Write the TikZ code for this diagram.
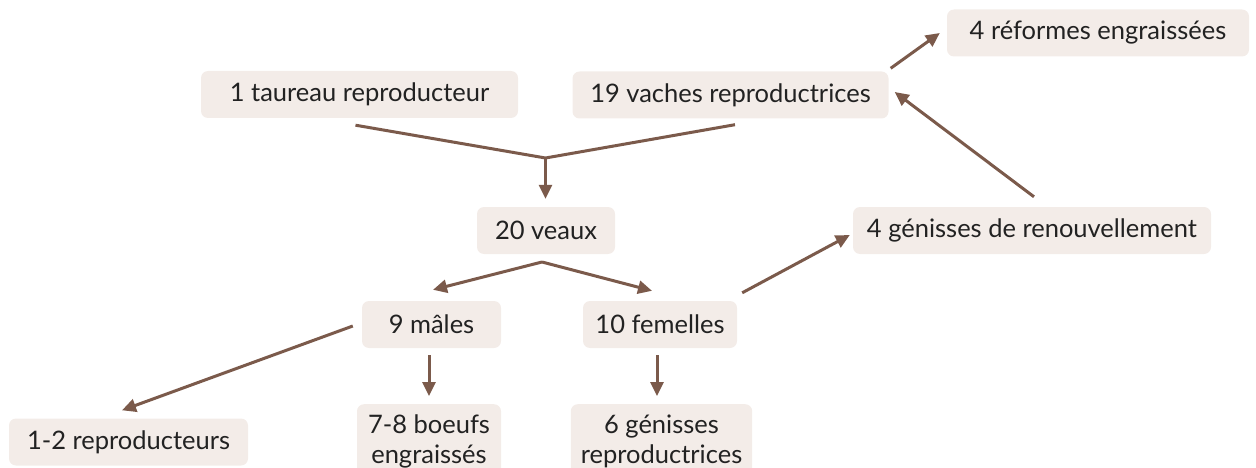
\documentclass[tikz,border=0pt]{standalone}
\usepackage{fontspec}
\setmainfont{Lato}
\usetikzlibrary{arrows.meta,calc}
\definecolor{boxfill}{HTML}{F3ECE8}
\definecolor{linkcol}{HTML}{7B5A4B}
\definecolor{txt}{HTML}{222222}
\begin{document}
\begin{tikzpicture}[x=1pt,y=-1pt,
  box/.style={shape=rectangle,fill=boxfill,rounded corners=7pt,minimum height=47pt,
    inner sep=0pt,text=txt,font=\fontsize{25.5}{30}\selectfont},
  tallbox/.style={box,anchor=north,align=center,inner xsep=10pt,inner ysep=11pt},
  link/.style={draw=linkcol,line width=3pt},
  arr/.style={link,-{Triangle[length=14pt,width=13pt]}}]
\useasboundingbox (0,0) rectangle (1256,468);

% cattle groups
\node[box,minimum width=317pt] (taureau) at (359.5,94.5) {1 taureau reproducteur};
\node[box,minimum width=316pt] (vaches) at (730.5,95) {19 vaches reproductrices};
\node[box,minimum width=302pt] (reformes) at (1098,33) {4 réformes engraissées};
\node[box,minimum width=138pt] (veaux) at (546,230.5) {20 veaux};
\node[box,minimum width=358pt] (renouv) at (1032,230.5) {4 génisses de renouvellement};
\node[box,minimum width=139pt] (males) at (431.5,324.5) {9 mâles};
\node[box,minimum width=154pt] (femelles) at (660,324.5) {10 femelles};
\node[box,minimum width=239pt] (repro) at (128.5,442) {1-2 reproducteurs};
\node[tallbox,minimum width=144pt] (boeufs) at (429,404) {7-8 boeufs\\engraissés};
\node[tallbox,minimum width=181pt] (genisses) at (661.5,404) {6 génisses\\reproductrices};

% junctions
\coordinate (j1) at (545.5,158);
\coordinate (j2) at (542,262);

% breeding pair to calves
\draw[link] ($(taureau.south)+(-4,7)$) -- (j1) -- ($(vaches.south)+(4.5,6)$);
\draw[arr] (j1) -- ($(veaux.north)+(-0.5,-8)$);

% calves split
\draw[link] ($(veaux.south)+(-4,8)$) -- (j2);
\draw[arr] (j2) -- ($(males.north)+(1.5,-11)$);
\draw[arr] (j2) -- ($(femelles.north)+(-8,-10)$);

% males
\draw[arr] ($(males.west)+(-9,1.5)$) -- ($(repro.north)+(-6.5,-8)$);
\draw[arr] ($(males.south)+(-2.5,7)$) -- ($(boeufs.north)+(0,-8)$);

% females
\draw[arr] ($(femelles.south)+(-3,7)$) -- ($(genisses.north)+(-4.5,-8)$);
\draw[arr] ($(femelles.north east)+(5,-8)$) -- ($(renouv.west)+(-3,4.5)$);

% herd renewal and culling
\draw[arr] ($(renouv.north)+(2,-10)$) -- ($(vaches.east)+(6,-3)$);
\draw[arr] ($(vaches.north east)+(2,-3)$) -- ($(reformes.west)+(-7,0)$);
\end{tikzpicture}
\end{document}
